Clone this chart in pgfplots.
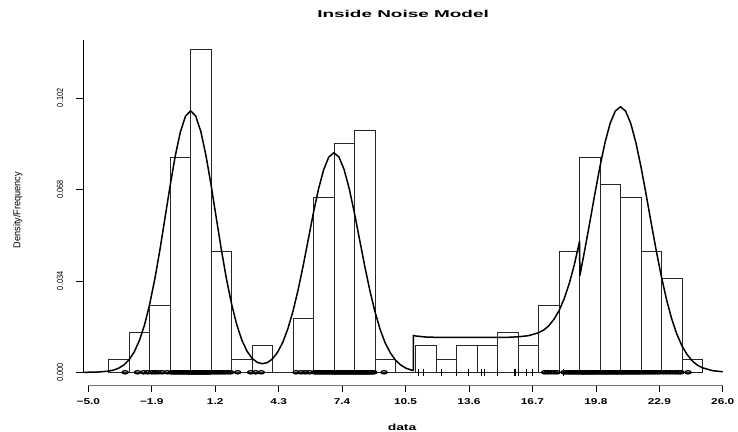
\documentclass[border=0pt]{standalone}
\usepackage{fontspec}
\setmainfont{Liberation Sans}
\usepackage{graphicx}
\usepackage{pgfplots}
\pgfplotsset{compat=1.18}
\begin{document}
\begin{tikzpicture}
\path[use as bounding box] (-83bp,-47bp) rectangle (655bp,385bp);
\begin{axis}[
  at={(0,0)}, anchor=south west,
  scale only axis, width=645.9bp, height=345bp,
  xmin=-5.26, xmax=26.3, ymin=-0.00472, ymax=0.1235,
  axis x line=bottom, axis y line=left,
  axis line style={draw=none,-},
  clip=false,
  tick align=outside, major tick length=7bp,
  tick style={black, line width=0.6bp},
  xtick={-5,-1.9,1.2,4.3,7.4,10.5,13.6,16.7,19.8,22.9,26},
  xticklabels={−5.0,−1.9,1.2,4.3,7.4,10.5,13.6,16.7,19.8,22.9,26.0},
  ytick={0,0.034,0.068,0.102},
  yticklabels={\scalebox{0.82}[1]{0.000},\scalebox{0.82}[1]{0.034},\scalebox{0.82}[1]{0.068},\scalebox{0.82}[1]{0.102}},
  xticklabel style={font=\fontsize{8.5}{10}\selectfont\bfseries, anchor=center, yshift=-10bp, xscale=1.4},
  yticklabel style={font=\fontsize{9}{10}\selectfont, anchor=center, xshift=-16bp, rotate=90},
]
% histogram
\addplot[ybar interval, draw=black!85, fill=none, line width=0.6bp] coordinates {
(-4,0.005)(-3,0.015)(-2,0.025)(-1,0.08)(0,0.12)(1,0.045)(2,0.005)(3,0.01)(4,0)
(5,0.02)(6,0.065)(7,0.085)(8,0.09)(9,0.005)(10,0)(11,0.01)(12,0.005)(13,0.01)
(14,0.01)(15,0.015)(16,0.01)(17,0.025)(18,0.045)(19,0.08)(20,0.07)(21,0.065)
(22,0.045)(23,0.035)(24,0.005)(25,0.005)};
% density curve
\addplot[black, line width=1.5bp, line join=round, no markers] coordinates {
(-5.26,0)(-5,0.00002)(-4.5,0.00011)(-4,0.00045)(-3.75,0.00086)(-3.5,0.00159)(-3.25,0.0028)
(-3,0.00473)(-2.75,0.00766)(-2.5,0.0119)(-2.25,0.0177)(-2,0.0254)(-1.75,0.0347)(-1.5,0.0456)
(-1.25,0.0575)(-1,0.0695)(-0.75,0.0805)(-0.5,0.0894)(-0.25,0.0952)(0,0.0972)(0.25,0.0952)
(0.5,0.0894)(0.75,0.0805)(1,0.0695)(1.25,0.0575)(1.5,0.0456)(1.75,0.0347)(2,0.0254)
(2.25,0.0178)(2.5,0.0120)(2.75,0.0079)(3,0.0052)(3.25,0.0037)(3.5,0.0032)(3.75,0.0036)
(4,0.0050)(4.25,0.0075)(4.5,0.0111)(4.75,0.0162)(5,0.0227)(5.25,0.0306)(5.5,0.0397)
(5.75,0.0495)(6,0.0593)(6.25,0.0682)(6.5,0.0753)(6.75,0.0800)(7,0.0816)(7.25,0.0800)
(7.5,0.0753)(7.75,0.0682)(8,0.0593)(8.25,0.0495)(8.5,0.0397)(8.75,0.0306)(9,0.0227)
(9.25,0.0161)(9.5,0.0110)(9.75,0.0073)(10,0.0046)(10.25,0.0028)(10.5,0.0016)(10.75,0.0009)
(10.88,0.0007)(10.88,0.0137)(11,0.0135)(11.5,0.0131)(12,0.0130)(13,0.0130)(14,0.0130)
(15,0.0130)(15.5,0.0130)(16,0.0132)(16.5,0.0136)(17,0.0147)(17.25,0.0157)(17.5,0.0173)
(17.75,0.0197)(18,0.0229)(18.25,0.0273)(18.5,0.0330)(18.75,0.0401)(19,0.0486)(19.02,0.0360)
(19.25,0.0452)(19.5,0.0556)(19.75,0.0663)(20,0.0765)(20.25,0.0855)(20.5,0.0926)(20.75,0.0971)
(21,0.0987)(21.25,0.0971)(21.5,0.0926)(21.75,0.0855)(22,0.0765)(22.25,0.0663)(22.5,0.0556)
(22.75,0.0452)(23,0.0356)(23.25,0.0271)(23.5,0.0200)(23.75,0.0143)(24,0.0099)(24.25,0.0067)
(24.5,0.0043)(24.75,0.0027)(25,0.0017)(25.5,0.0006)(26,0.0002)};
% rug: cluster points
\addplot[only marks, mark=o, mark size=2.3bp, mark options={xscale=1.35, yscale=0.7, line width=1.3bp, black}] coordinates {
(-3.2,0)(-2.6,0)(-2.3,0)(-2.1,0)(-1.9,0)(-1.75,0)(-1.6,0)(-1.4,0)(-1.15,0)
(-0.95,0)(-0.9,0)(-0.82,0)(-0.75,0)(-0.68,0)(-0.6,0)(-0.55,0)(-0.48,0)(-0.4,0)(-0.35,0)
(-0.28,0)(-0.22,0)(-0.15,0)(-0.1,0)(-0.05,0)(-0.02,0)
(0.02,0)(0.05,0)(0.08,0)(0.12,0)(0.15,0)(0.2,0)(0.24,0)(0.28,0)(0.32,0)(0.36,0)(0.4,0)
(0.44,0)(0.48,0)(0.52,0)(0.56,0)(0.6,0)(0.64,0)(0.68,0)(0.72,0)(0.76,0)(0.8,0)(0.85,0)
(0.9,0)(0.95,0)(1.05,0)(1.15,0)(1.25,0)(1.35,0)(1.45,0)(1.55,0)(1.65,0)(1.8,0)(1.95,0)
(2.3,0)(2.93,0)(3.17,0)(3.45,0)
(5.15,0)(5.4,0)(5.6,0)(5.8,0)(6.05,0)(6.12,0)(6.2,0)(6.28,0)(6.35,0)(6.42,0)(6.5,0)
(6.58,0)(6.65,0)(6.72,0)(6.8,0)(6.88,0)(6.95,0)(7.03,0)(7.08,0)(7.14,0)(7.2,0)(7.26,0)
(7.32,0)(7.38,0)(7.44,0)(7.5,0)(7.56,0)(7.62,0)(7.68,0)(7.74,0)(7.8,0)(7.86,0)(7.92,0)
(7.97,0)(8.03,0)(8.08,0)(8.13,0)(8.18,0)(8.23,0)(8.28,0)(8.33,0)(8.38,0)(8.43,0)(8.48,0)
(8.53,0)(8.58,0)(8.63,0)(8.68,0)(8.73,0)(8.8,0)(8.88,0)(8.95,0)(9.45,0)
(17.3,0)(17.45,0)(17.6,0)(17.75,0)(17.9,0)(18.25,0)(18.35,0)(18.45,0)(18.55,0)(18.62,0)
(18.7,0)(18.78,0)(18.86,0)(18.94,0)(19.03,0)(19.09,0)(19.15,0)(19.21,0)(19.27,0)(19.33,0)
(19.39,0)(19.45,0)(19.51,0)(19.57,0)(19.63,0)(19.69,0)(19.75,0)(19.81,0)(19.88,0)(19.95,0)
(20.04,0)(20.1,0)(20.17,0)(20.24,0)(20.31,0)(20.38,0)(20.45,0)(20.52,0)(20.59,0)(20.66,0)
(20.73,0)(20.8,0)(20.87,0)(20.94,0)(21.04,0)(21.11,0)(21.19,0)(21.26,0)(21.34,0)(21.41,0)
(21.49,0)(21.56,0)(21.64,0)(21.71,0)(21.79,0)(21.86,0)(21.94,0)(22.05,0)(22.15,0)(22.25,0)
(22.36,0)(22.47,0)(22.58,0)(22.69,0)(22.8,0)(22.92,0)(23.1,0)(23.25,0)(23.4,0)(23.55,0)
(23.7,0)(23.85,0)(23.95,0)(24.3,0)};
% rug: noise points
\addplot[only marks, mark=|, mark size=3.5bp, mark options={line width=0.9bp, black}] coordinates {
(11.15,0)(11.36,0)(12.23,0)(13.0,0)(13.59,0)(14.21,0)(14.37,0)(15.0,0)(15.8,0)(15.85,0)
(16.04,0)(16.4,0)(16.72,0)(18.2,0)};
% axis lines
\draw[black!55, line width=0.7bp] (axis cs:-5,-0.00472) -- (axis cs:26,-0.00472);
\draw[black, line width=0.7bp] (axis cs:-5.26,0) -- (axis cs:-5.26,0.1235);
% title and labels
\node at (axis cs:10.38,0.1333) {\fontsize{10}{12}\selectfont\bfseries\scalebox{1.9}[1]{Inside Noise Model}};
\node at (axis cs:10.33,-0.0203) {\fontsize{9}{11}\selectfont\bfseries\scalebox{1.55}[1]{data}};
\node[rotate=90] at (axis cs:-8.44,0.0603) {\fontsize{10}{12}\selectfont\scalebox{0.92}[1]{Density/Frequency}};
\end{axis}
\end{tikzpicture}
\end{document}
